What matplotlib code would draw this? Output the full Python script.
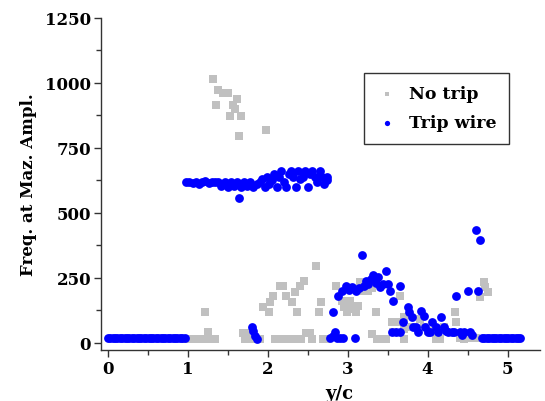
import matplotlib
matplotlib.use("Agg")
import matplotlib.pyplot as plt
from matplotlib.ticker import MultipleLocator

plt.rcParams['font.family'] = ['DejaVu Serif']
plt.rcParams['font.weight'] = 'bold'

# ---- No trip (grey squares) ----
notrip_x = [0.98, 1.02, 1.06, 1.10, 1.14, 1.18, 1.22, 1.26, 1.30, 1.34, 1.25, 1.21,
            1.32, 1.375, 1.44, 1.50, 1.35, 1.61, 1.56, 1.59, 1.525, 1.67, 1.64, 1.98,
            1.69, 1.73, 1.71, 1.78, 1.85, 1.90,
            1.94, 2.02, 2.03, 2.07, 2.15, 2.19, 2.23, 2.30, 2.34, 2.37, 2.40, 2.46, 2.61, 2.64, 2.67, 2.85,
            2.09, 2.13, 2.18, 2.23, 2.27, 2.31, 2.42, 2.48, 2.53, 2.56, 2.69, 2.73,
            2.86, 2.93, 2.96, 2.99, 3.03, 3.06, 3.10, 3.13, 3.15, 3.20, 3.25, 3.30, 3.36, 3.31, 3.37, 3.42, 3.48,
            3.55, 3.60, 3.65, 3.70, 3.71, 3.71, 3.57, 3.80, 3.90, 3.95, 4.00, 4.10, 4.15, 4.05, 4.20,
            4.34, 4.36, 4.40, 4.46, 4.55, 4.60, 4.65, 4.70, 4.75, 4.72]
notrip_y = [15, 15, 15, 15, 15, 15, 15, 15, 15, 15, 41, 118,
            1015, 974, 960, 960, 915, 938, 915, 900, 874, 874, 795, 819,
            38, 38, 15, 15, 15, 15,
            137, 118, 157, 180, 218, 218, 180, 157, 195, 118, 218, 237, 295, 118, 157, 218,
            15, 15, 15, 15, 15, 15, 15, 38, 38, 15, 15, 15,
            218, 163, 140, 118, 163, 130, 118, 143, 233, 200, 200, 210, 118, 35, 15, 15, 15,
            81, 81, 182, 100, 54, 15, 41, 60, 92, 60, 45, 15, 15, 45, 60,
            118, 81, 20, 15, 20, 20, 176, 236, 195, 215]

# ---- Trip wire (blue circles) ----
trip_x = [0.00, 0.03, 0.06, 0.09, 0.12, 0.15, 0.18, 0.21, 0.24, 0.27, 0.30, 0.33, 0.36, 0.39, 0.42,
          0.45, 0.48, 0.51, 0.54, 0.57, 0.60, 0.63, 0.66, 0.69, 0.72, 0.75, 0.78, 0.81, 0.84, 0.87,
          0.90, 0.93, 0.96,
          0.98, 1.02, 1.06, 1.10, 1.14, 1.18, 1.22, 1.26, 1.30, 1.34, 1.38, 1.42, 1.46, 1.50,
          1.54, 1.58, 1.62, 1.64, 1.66, 1.70, 1.74, 1.78, 1.82, 1.86, 1.90,
          1.93, 1.96, 1.99, 2.02, 2.05, 2.08, 2.11, 2.14, 2.17, 2.20, 2.23, 2.26, 2.29, 2.32,
          2.35, 2.38, 2.41, 2.44, 2.47, 2.50, 2.53, 2.56, 2.59, 2.62, 2.65, 2.68, 2.71, 2.74, 2.74,
          1.80, 1.82, 1.84, 1.86,
          2.78, 2.82, 2.84, 2.87, 2.90, 2.94, 3.09,
          2.82, 2.88, 2.93, 2.98, 3.02, 3.06, 3.10, 3.14, 3.18, 3.20, 3.23, 3.26, 3.29, 3.32,
          3.35, 3.38, 3.40, 3.44, 3.48, 3.50, 3.53, 3.57, 3.66,
          3.55, 3.60, 3.65, 3.69, 3.75, 3.77, 3.80, 3.82, 3.86, 3.88, 3.92, 3.95, 3.97, 4.00,
          4.03, 4.06, 4.10, 4.13, 4.17, 4.20, 4.23, 4.26, 4.30, 4.33, 4.36, 4.40, 4.43, 4.46,
          4.50, 4.53, 4.56, 4.60, 4.63, 4.66,
          4.68, 4.71, 4.74, 4.77, 4.80, 4.83, 4.86, 4.89, 4.92, 4.95, 4.98, 5.01, 5.04, 5.07,
          5.10, 5.13, 5.16]
trip_y = [20, 20, 19, 20, 20, 19, 20, 20, 20, 19, 20, 20, 20, 19, 20,
          20, 20, 19, 20, 20, 20, 19, 20, 20, 20, 19, 20, 20, 20, 19,
          20, 20, 20,
          620, 618, 615, 620, 612, 620, 622, 615, 620, 618, 620, 605, 620, 600,
          620, 605, 620, 558, 600, 618, 605, 620, 600, 610, 620,
          630, 600, 640, 610, 625, 650, 600, 640, 660, 620, 600, 650, 660, 640,
          600, 660, 630, 640, 660, 600, 650, 660, 640, 620, 660, 640, 610, 640, 625,
          60, 47, 28, 15,
          18, 25, 41, 18, 18, 18, 18,
          118, 180, 200, 220, 205, 215, 200, 210, 338, 220, 240, 225, 245, 262,
          230, 255, 215, 225, 278, 225, 200, 160, 218,
          41, 41, 41, 81, 138, 120, 100, 60, 61, 41, 124, 104, 60, 41,
          41, 81, 60, 41, 100, 60, 45, 41, 41, 41, 180, 41, 30, 41,
          199, 41, 30, 436, 199, 397,
          18, 18, 18, 18, 18, 18, 18, 18, 18, 18, 18, 18, 18, 18,
          18, 18, 18]

fig = plt.figure(figsize=(5.45, 4.02), dpi=100)
ax = fig.add_axes([0.185, 0.127, 0.805, 0.826])

ax.scatter(notrip_x, notrip_y, marker='s', s=30, color='#c0c0c0', linewidths=0,
           label='No trip', zorder=2)
ax.scatter(trip_x, trip_y, marker='o', s=40, color='#0000ff', linewidths=0,
           label='Trip wire', zorder=3)

ax.set_xlim(-0.0875, 5.4)
ax.set_ylim(-27, 1250)
ax.xaxis.set_major_locator(MultipleLocator(1))
ax.xaxis.set_minor_locator(MultipleLocator(0.5))
ax.yaxis.set_major_locator(MultipleLocator(250))
ax.yaxis.set_minor_locator(MultipleLocator(125))

for s in ['top', 'right']:
    ax.spines[s].set_visible(False)
for s in ['left', 'bottom']:
    ax.spines[s].set_color('#333333')
    ax.spines[s].set_linewidth(1.0)

ax.tick_params(which='major', direction='out', length=5, width=1, color='#333333',
               labelsize=12, pad=2)
ax.tick_params(which='minor', direction='out', length=3.5, width=1, color='#333333')
for lbl in ax.get_xticklabels() + ax.get_yticklabels():
    lbl.set_fontweight('bold')

ax.set_xlabel('y/c', fontsize=13, fontweight='bold')
ax.xaxis.set_label_coords(0.544, -0.103)
ax.set_ylabel('Freq. at Maz. Ampl.', fontsize=12, fontweight='bold', labelpad=6)

leg = ax.legend(loc='upper right', bbox_to_anchor=(0.95, 0.86), frameon=True,
                fancybox=False, edgecolor='black', markerscale=0.6,
                prop={'family': 'DejaVu Serif', 'weight': 'bold', 'size': 12.5},
                handletextpad=0.6, borderpad=0.7, labelspacing=0.7, handlelength=1.3)
leg.get_frame().set_linewidth(1.0)

fig.savefig('out.png', dpi=100)
